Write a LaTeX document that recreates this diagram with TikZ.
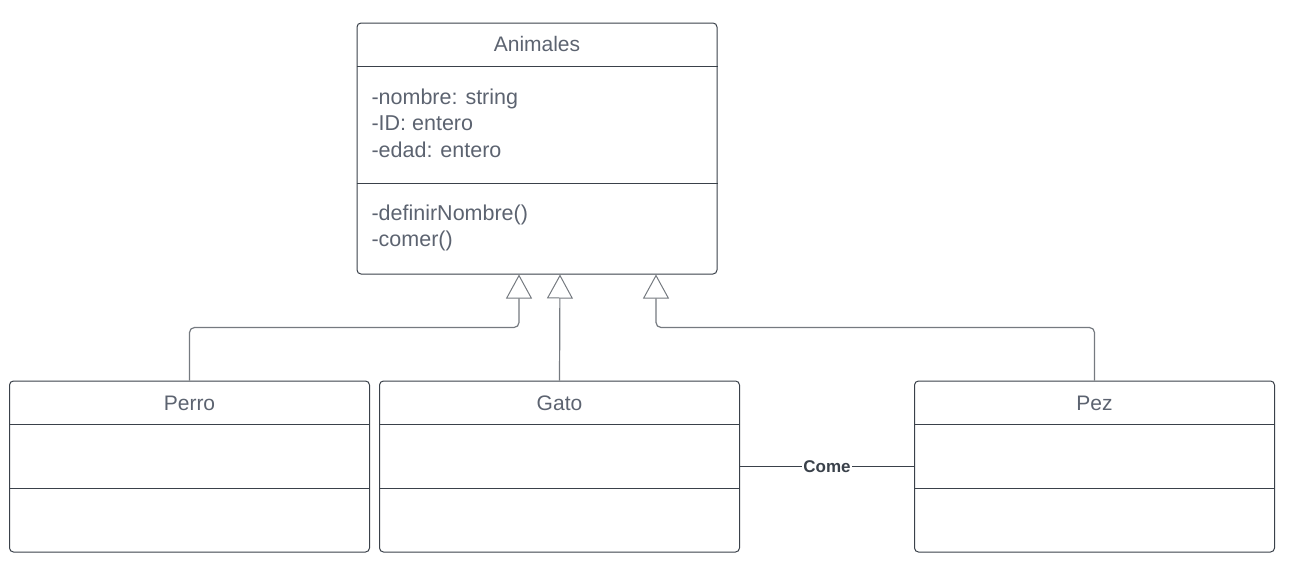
\documentclass[tikz,border=0pt]{standalone}
\usepackage{fontspec}
\setmainfont{Liberation Sans}
\usepackage{tikz}
\usetikzlibrary{arrows.meta}
\definecolor{umlline}{HTML}{3A414A}
\definecolor{umltext}{HTML}{5C6370}
\tikzset{
  classbox/.style={draw=umlline, line width=1pt, rounded corners=4pt,
    minimum width=360pt, minimum height=171pt, inner sep=0pt},
  divider/.style={draw=umlline, line width=1pt},
  inherit/.style={draw=umlline!70, line width=1.2pt, rounded corners=5pt,
    -{Triangle[open, length=24pt, width=26pt, line width=1pt]}},
  assoc/.style={draw=umlline, line width=1.8pt}
}

\begin{document}
\begin{tikzpicture}[x=1pt, y=-1pt, font=\fontsize{21}{26}\selectfont, text=umltext]
\useasboundingbox (0,0) rectangle (1295,562);
% classes
\node[classbox, minimum height=251pt] (animales) at (537,148.5) {};
\node[classbox] (perro) at (189.5,466.5) {};
\node[classbox] (gato) at (559.5,466.5) {};
\node[classbox] (pez) at (1094.5,466.5) {};
\draw[divider] (animales.west |- 0,66) -- (animales.east |- 0,66);
\draw[divider] (animales.west |- 0,183) -- (animales.east |- 0,183);
\foreach \c in {perro,gato,pez} {
  \draw[divider] (\c.west |- 0,424) -- (\c.east |- 0,424);
  \draw[divider] (\c.west |- 0,488) -- (\c.east |- 0,488);
}
% texts
\node (animalesname) at (537,44) {Animales};
\node (perroname) at (189.5,403) {Perro};
\node (gatoname) at (559.5,403) {Gato};
\node (pezname) at (1094.5,403) {Pez};
\begin{scope}[font=\fontsize{21.5}{26}\selectfont]
\node[anchor=base west] (attr1) at (368,104) {-nombre: string};
\node[anchor=base west] (attr2) at (368,130) {-ID: entero};
\node[anchor=base west] (attr3) at (368,157) {-edad: entero};
\node[anchor=base west] (meth1) at (368,220) {-definirNombre()};
\node[anchor=base west] (meth2) at (368,246) {-comer()};
\end{scope}
% connectors
\draw[inherit] (perro.north) -- ++(0,-53) -| ([xshift=-18pt]animales.south);
\draw[inherit] (gato.north) -- ([xshift=23pt]animales.south);
\draw[inherit] (pez.north) -- ++(0,-53) -| ([xshift=119pt]animales.south);
\draw[assoc] (gato.east) -- node[fill=white, inner sep=1pt, text=umlline,
  font=\fontsize{17}{19}\selectfont\bfseries] (come) {Come} (pez.west);
\end{tikzpicture}
\end{document}
